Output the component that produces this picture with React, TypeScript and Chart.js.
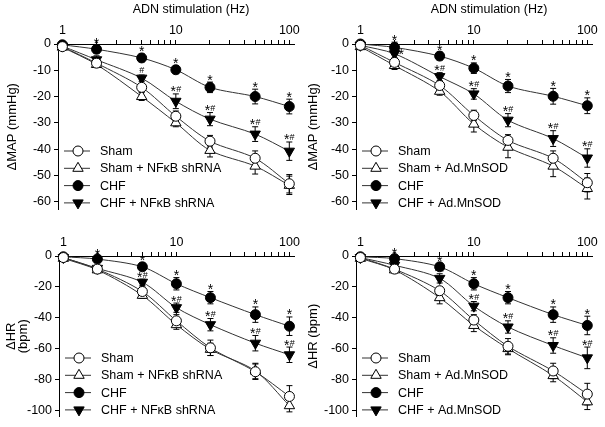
import React, { useEffect, useRef } from 'react';
import { Chart, registerables } from 'chart.js';

Chart.register(...registerables);

const FONT = '"Liberation Sans", Arial, sans-serif';

// ---------- shared axis data ----------
const frequencies = [1, 2, 5, 10, 20, 50, 100];
const xTickValues = [1, 2, 3, 4, 5, 6, 7, 8, 9, 10, 20, 30, 40, 50, 60, 70, 80, 90, 100];
const xLabeledTicks = [1, 10, 100];
const mapTicks = [0, -10, -20, -30, -40, -50, -60];
const hrTicks = [0, -20, -40, -60, -80, -100];
const xAxisTitle = 'ADN stimulation (Hz)';

const labelsNfkb = ['Sham', 'Sham + NF\u03baB shRNA', 'CHF', 'CHF + NF\u03baB shRNA'];
const labelsSod = ['Sham', 'Sham + Ad.MnSOD', 'CHF', 'CHF + Ad.MnSOD'];

// ---------- ΔMAP, NFκB shRNA ----------
const mapNfkbSham = [-1, -7.3, -16.5, -27.5, -37, -43.5, -53.2];
const mapNfkbShamErr = [0.5, 1, 1.5, 2, 2.2, 2.8, 3.5];
const mapNfkbShamTx = [-1.2, -7.8, -20, -30, -40.5, -46.5, -53.8];
const mapNfkbShamTxErr = [0.5, 1, 1.5, 1.5, 2.5, 3, 3.5];
const mapNfkbChf = [-0.3, -2, -5.3, -9.8, -16.5, -20, -23.8];
const mapNfkbChfErr = [0.5, 1.5, 1.5, 1.5, 2, 2.8, 2.8];
const mapNfkbChfTx = [-0.8, -6, -13, -21.8, -28.6, -34.3, -40.8];
const mapNfkbChfTxErr = [0.5, 1.5, 1.2, 2.8, 2.5, 2.8, 3.5];

// ---------- ΔMAP, Ad.MnSOD ----------
const mapSodSham = [-0.5, -7, -15.8, -27.2, -36.7, -43.5, -52.8];
const mapSodShamErr = [0.5, 1.2, 1.5, 2, 2.2, 2.8, 3.5];
const mapSodShamTx = [-1, -8.2, -18, -30.5, -39.3, -46.5, -55];
const mapSodShamTxErr = [0.5, 1.5, 1.5, 3, 4, 4, 4];
const mapSodChf = [0, -1.3, -4.6, -9.2, -16, -19.9, -23.5];
const mapSodChfErr = [0.5, 2, 1.5, 2, 2.5, 3, 3];
const mapSodChfTx = [-0.5, -3.7, -12.4, -19, -29, -36, -43.4];
const mapSodChfTxErr = [0.5, 1.5, 1.5, 2, 2.5, 3, 3.5];

// ---------- ΔHR, NFκB shRNA ----------
const hrNfkbSham = [-1, -8.5, -23, -42, -59.5, -75, -91];
const hrNfkbShamErr = [1, 2, 3, 4, 5, 5, 7];
const hrNfkbShamTx = [-1.5, -9, -25.5, -44.5, -60.5, -74.5, -97];
const hrNfkbShamTxErr = [1, 2, 2, 3, 4, 5, 4];
const hrNfkbChf = [-0.5, -2, -7, -18, -27, -38, -45.5];
const hrNfkbChfErr = [1, 2, 2.5, 4, 4, 5, 6];
const hrNfkbChfTx = [-1, -8, -17, -33.5, -44.5, -56.5, -64];
const hrNfkbChfTxErr = [1, 2, 2, 3, 4, 5, 5];

// ---------- ΔHR, Ad.MnSOD ----------
const hrSodSham = [-1, -8.5, -22.5, -41.5, -58.5, -74.5, -89.5];
const hrSodShamErr = [1, 2, 2.5, 3.5, 5, 5, 7];
const hrSodShamTx = [-1.5, -9, -27, -45, -60, -77.5, -94.5];
const hrSodShamTxErr = [1, 2, 4, 4, 4, 4, 5];
const hrSodChf = [-0.5, -1.7, -7, -18, -27, -38, -45];
const hrSodChfErr = [1, 2, 2, 4, 4, 5, 6];
const hrSodChfTx = [-1, -6, -14.5, -32.5, -46, -58, -66];
const hrSodChfTxErr = [1, 2, 3, 3, 4, 5, 7];

// ---------- significance marks ----------
const noMarks = ['', '', '', '', '', '', ''];
const chfMarks = ['', '*', '*', '*', '*', '*', '*'];
const mapNfkbTxMarks = ['', '', '#', '*#', '*#', '*#', '*#'];
const mapSodTxMarks = ['', '*', '*#', '*#', '*#', '*#', '*#'];
const hrTxMarks = ['', '', '*#', '*#', '*#', '*#', '*#'];

// ---------- styles ----------
const seriesStyles = [
  { pointStyle: 'circle', fill: '#ffffff', radius: 5, rotation: 0 },
  { pointStyle: 'triangle', fill: '#ffffff', radius: 6, rotation: 0 },
  { pointStyle: 'circle', fill: '#000000', radius: 5, rotation: 0 },
  { pointStyle: 'triangle', fill: '#000000', radius: 6, rotation: 180 },
];

const X_MIN = 0.915;
const X_MAX = 110;
const TICK_SIZE = 12.5;
const LEGEND_SIZE = 12.5;
const TITLE_SIZE = 12.5;

type PanelConfig = {
  key: string;
  left: number;
  top: number;
  width: number;
  height: number;
  axisLeft: number;
  axisTop: number;
  padRight: number;
  padBottom: number;
  yMin: number;
  yTicks: number[];
  yTitle: string | string[];
  yTitlePad: number;
  yTitleLineHeight: number;
  showXTitle: boolean;
  labels: string[];
  values: number[][];
  errors: number[][];
  marks: string[][];
  sideMarks: number[][];
};

const panels: PanelConfig[] = [
  {
    key: 'tl', left: 0, top: 0, width: 302, height: 220,
    axisLeft: 58, axisTop: 44, padRight: 8, padBottom: 2,
    yMin: -63, yTicks: mapTicks, yTitle: '\u0394MAP (mmHg)', yTitlePad: 5, yTitleLineHeight: 1.2,
    showXTitle: true, labels: labelsNfkb,
    values: [mapNfkbSham, mapNfkbShamTx, mapNfkbChf, mapNfkbChfTx],
    errors: [mapNfkbShamErr, mapNfkbShamTxErr, mapNfkbChfErr, mapNfkbChfTxErr],
    marks: [noMarks, noMarks, chfMarks, mapNfkbTxMarks],
    sideMarks: [],
  },
  {
    key: 'tr', left: 300, top: 0, width: 305, height: 220,
    axisLeft: 56, axisTop: 44, padRight: 13, padBottom: 2,
    yMin: -63, yTicks: mapTicks, yTitle: '\u0394MAP (mmHg)', yTitlePad: 6, yTitleLineHeight: 1.2,
    showXTitle: true, labels: labelsSod,
    values: [mapSodSham, mapSodShamTx, mapSodChf, mapSodChfTx],
    errors: [mapSodShamErr, mapSodShamTxErr, mapSodChfErr, mapSodChfTxErr],
    marks: [noMarks, noMarks, chfMarks, mapSodTxMarks],
    sideMarks: [[3, 1]],
  },
  {
    key: 'bl', left: 0, top: 220, width: 302, height: 207,
    axisLeft: 59, axisTop: 36, padRight: 7, padBottom: 8,
    yMin: -104, yTicks: hrTicks, yTitle: ['\u0394HR', '(bpm)'], yTitlePad: 6, yTitleLineHeight: 0.9,
    showXTitle: false, labels: labelsNfkb,
    values: [hrNfkbSham, hrNfkbShamTx, hrNfkbChf, hrNfkbChfTx],
    errors: [hrNfkbShamErr, hrNfkbShamTxErr, hrNfkbChfErr, hrNfkbChfTxErr],
    marks: [noMarks, noMarks, chfMarks, hrTxMarks],
    sideMarks: [],
  },
  {
    key: 'br', left: 300, top: 220, width: 305, height: 207,
    axisLeft: 56, axisTop: 36, padRight: 13, padBottom: 8,
    yMin: -104, yTicks: hrTicks, yTitle: '\u0394HR (bpm)', yTitlePad: 6, yTitleLineHeight: 1.2,
    showXTitle: false, labels: labelsSod,
    values: [hrSodSham, hrSodShamTx, hrSodChf, hrSodChfTx],
    errors: [hrSodShamErr, hrSodShamTxErr, hrSodChfErr, hrSodChfTxErr],
    marks: [noMarks, noMarks, chfMarks, hrTxMarks],
    sideMarks: [],
  },
];

function drawMarker(ctx: CanvasRenderingContext2D, style: any, x: number, y: number) {
  ctx.save();
  ctx.beginPath();
  const r = style.radius;
  if (style.pointStyle === 'circle') {
    ctx.arc(x, y, r, 0, Math.PI * 2);
  } else {
    let rad = (style.rotation * Math.PI) / 180;
    ctx.moveTo(x + Math.sin(rad) * r, y - Math.cos(rad) * r);
    rad += (2 * Math.PI) / 3;
    ctx.lineTo(x + Math.sin(rad) * r, y - Math.cos(rad) * r);
    rad += (2 * Math.PI) / 3;
    ctx.lineTo(x + Math.sin(rad) * r, y - Math.cos(rad) * r);
    ctx.closePath();
  }
  ctx.fillStyle = style.fill;
  ctx.strokeStyle = '#000';
  ctx.lineWidth = 1;
  ctx.fill();
  ctx.stroke();
  ctx.restore();
}

function drawMark(ctx: CanvasRenderingContext2D, text: string, cx: number, baseline: number, alignLeft: boolean) {
  const starFont = `14px ${FONT}`;
  const hashFont = `9px ${FONT}`;
  const hasStar = text.includes('*');
  const hasHash = text.includes('#');
  ctx.font = starFont;
  const sw = hasStar ? ctx.measureText('*').width : 0;
  ctx.font = hashFont;
  const hw = hasHash ? ctx.measureText('#').width : 0;
  const gap = hasStar && hasHash ? 0.2 : 0;
  let x = alignLeft ? cx : cx - (sw + gap + hw) / 2;
  ctx.textAlign = 'left';
  ctx.textBaseline = 'alphabetic';
  ctx.fillStyle = '#000';
  if (hasStar) {
    ctx.font = starFont;
    ctx.fillText('*', x, baseline);
    x += sw + gap;
  }
  if (hasHash) {
    ctx.font = hashFont;
    ctx.fillText('#', x, baseline - 4);
  }
}

function makePlugin(panel: PanelConfig) {
  return {
    id: 'panelExtras-' + panel.key,
    beforeDatasetsDraw(chart: any) {
      const ctx: CanvasRenderingContext2D = chart.ctx;
      const xs = chart.scales.x;
      const ys = chart.scales.y;
      ctx.save();
      ctx.strokeStyle = '#000';
      ctx.lineWidth = 1;
      panel.values.forEach((vals, i) => {
        vals.forEach((v, j) => {
          const e = panel.errors[i][j];
          const px = xs.getPixelForValue(frequencies[j]);
          const y1 = ys.getPixelForValue(v + e);
          const y2 = ys.getPixelForValue(v - e);
          ctx.beginPath();
          ctx.moveTo(px, y1);
          ctx.lineTo(px, y2);
          ctx.moveTo(px - 3, y1);
          ctx.lineTo(px + 3, y1);
          ctx.moveTo(px - 3, y2);
          ctx.lineTo(px + 3, y2);
          ctx.stroke();
        });
      });
      ctx.restore();
    },
    afterDatasetsDraw(chart: any) {
      const ctx: CanvasRenderingContext2D = chart.ctx;
      const xs = chart.scales.x;
      const ys = chart.scales.y;
      const area = chart.chartArea;
      ctx.save();
      // significance marks
      panel.marks.forEach((row, i) => {
        row.forEach((txt, j) => {
          if (!txt) return;
          const v = panel.values[i][j];
          const e = panel.errors[i][j];
          const px = xs.getPixelForValue(frequencies[j]);
          const side = panel.sideMarks.some((s) => s[0] === i && s[1] === j);
          if (side) {
            drawMark(ctx, txt, px + 4, ys.getPixelForValue(v) + 5, true);
          } else {
            drawMark(ctx, txt, px, ys.getPixelForValue(v + e) + 2.5, false);
          }
        });
      });
      // legend
      const rowGap = 17.3;
      panel.labels.forEach((label, i) => {
        const y = area.bottom - 6.6 - (panel.labels.length - 1 - i) * rowGap;
        ctx.strokeStyle = '#333';
        ctx.lineWidth = 1;
        ctx.beginPath();
        ctx.moveTo(area.left + 6, y);
        ctx.lineTo(area.left + 32, y);
        ctx.stroke();
        drawMarker(ctx, seriesStyles[i], area.left + 20, y);
        ctx.fillStyle = '#000';
        ctx.font = `${LEGEND_SIZE}px ${FONT}`;
        ctx.textAlign = 'left';
        ctx.textBaseline = 'middle';
        ctx.fillText(label, area.left + 42, y + 0.5);
      });
      // x-axis title
      if (panel.showXTitle) {
        ctx.fillStyle = '#000';
        ctx.font = `${TITLE_SIZE}px ${FONT}`;
        ctx.textAlign = 'center';
        ctx.textBaseline = 'middle';
        ctx.fillText(xAxisTitle, area.left + 133, 10);
      }
      ctx.restore();
    },
  };
}

function buildConfig(panel: PanelConfig): any {
  const font = { family: FONT, size: TICK_SIZE };
  return {
    type: 'line',
    data: {
      datasets: panel.values.map((vals, i) => ({
        label: panel.labels[i],
        data: frequencies.map((f, j) => ({ x: f, y: vals[j] })),
        borderColor: '#333333',
        borderWidth: 1,
        pointStyle: seriesStyles[i].pointStyle,
        pointRotation: seriesStyles[i].rotation,
        pointRadius: seriesStyles[i].radius,
        pointBackgroundColor: seriesStyles[i].fill,
        pointBorderColor: '#000000',
        pointBorderWidth: 1,
        tension: 0.3,
        fill: false,
        clip: false,
      })),
    },
    options: {
      responsive: false,
      animation: false,
      events: [],
      layout: { padding: { left: 0, top: 0, right: panel.padRight, bottom: panel.padBottom } },
      plugins: {
        legend: { display: false },
        tooltip: { enabled: false },
        title: { display: false },
      },
      scales: {
        x: {
          type: 'logarithmic',
          position: 'top',
          min: X_MIN,
          max: X_MAX,
          afterBuildTicks: (axis: any) => {
            axis.ticks = xTickValues.map((v) => ({ value: v }));
          },
          afterFit: (axis: any) => {
            axis.height = panel.axisTop;
          },
          ticks: {
            autoSkip: false,
            maxRotation: 0,
            minRotation: 0,
            padding: 2,
            color: '#000',
            font,
            callback: (v: any) => (xLabeledTicks.includes(Number(v)) ? String(v) : ''),
          },
          grid: { drawOnChartArea: false, drawTicks: true, tickLength: 4, color: '#000', lineWidth: 1 },
          border: { display: true, color: '#000', width: 1 },
        },
        y: {
          type: 'linear',
          position: 'left',
          min: panel.yMin,
          max: 0,
          afterBuildTicks: (axis: any) => {
            axis.ticks = panel.yTicks.map((v) => ({ value: v }));
          },
          afterFit: (axis: any) => {
            axis.width = panel.axisLeft;
          },
          ticks: { padding: 3, color: '#000', font },
          grid: { drawOnChartArea: false, drawTicks: true, tickLength: 4, color: '#000', lineWidth: 1 },
          border: { display: true, color: '#000', width: 1 },
          title: {
            display: true,
            text: panel.yTitle,
            color: '#000',
            font: { family: FONT, size: 13, lineHeight: panel.yTitleLineHeight },
            padding: { top: panel.yTitlePad, bottom: 0 },
          },
        },
      },
    },
    plugins: [makePlugin(panel)],
  };
}

function PanelChart({ panel }: { panel: PanelConfig }) {
  const ref = useRef<HTMLCanvasElement>(null);
  useEffect(() => {
    if (!ref.current) return;
    const chart = new Chart(ref.current, buildConfig(panel));
    return () => chart.destroy();
  }, [panel]);
  return (
    <canvas
      ref={ref}
      width={panel.width}
      height={panel.height}
      style={{ position: 'absolute', left: panel.left, top: panel.top, width: panel.width, height: panel.height }}
    />
  );
}

export default function App() {
  return (
    <div style={{ position: 'absolute', left: 0, top: 0, width: 605, height: 427, background: '#ffffff', overflow: 'hidden' }}>
      {panels.map((p) => (
        <PanelChart key={p.key} panel={p} />
      ))}
    </div>
  );
}
